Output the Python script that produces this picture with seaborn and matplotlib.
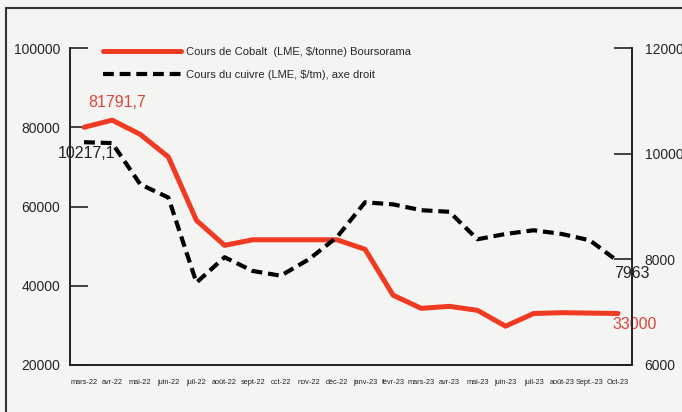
import seaborn as sns
import pandas as pd
import matplotlib.pyplot as plt
from matplotlib.lines import Line2D
from matplotlib.ticker import FixedLocator

sns.set_style("white")
plt.rcParams['font.family'] = ['Liberation Sans', 'DejaVu Sans']

# months on the x axis
months = ['mars-22', 'avr-22', 'mai-22', 'juin-22', 'juil-22', 'août-22',
          'sept-22', 'oct-22', 'nov-22', 'déc-22', 'janv-23', 'févr-23',
          'mars-23', 'avr-23', 'mai-23', 'juin-23', 'juil-23', 'août-23',
          'Sept.-23', 'Oct-23']

# cobalt price (LME, $/tonne), left axis
cobalt = [80000, 81791.7, 78200, 72500, 56500, 50200, 51600, 51600, 51600,
          51600, 49200, 37600, 34300, 34800, 33800, 29800, 33000, 33200,
          33100, 33000]

# copper price (LME, $/tm), right axis
cuivre = [10217.1, 10200, 9420, 9170, 7560, 8040, 7780, 7690, 8000, 8420,
          9080, 9040, 8930, 8900, 8380, 8480, 8550, 8480, 8360, 7963]

left_ticks = [20000, 40000, 60000, 80000, 100000]
right_ticks = [6000, 8000, 10000, 12000]

df = pd.DataFrame({'mois': months, 'cobalt': cobalt, 'cuivre': cuivre})

RED = '#f03a22'
BG = '#f4f4f2'

fig = plt.figure(figsize=(6.82, 4.12), dpi=100, facecolor=BG)
ax = fig.add_axes([70 / 682, 47 / 412, 562 / 682, 317 / 412])
ax.set_facecolor('none')
ax2 = ax.twinx()

sns.lineplot(data=df, x='mois', y='cobalt', ax=ax, color=RED, lw=3.6,
             sort=False, label='Cours de Cobalt  (LME, $/tonne) Boursorama',
             legend=False)
sns.lineplot(data=df, x='mois', y='cuivre', ax=ax2, color='black', lw=3,
             sort=False, label='Cours du cuivre (LME, $/tm), axe droit',
             legend=False)
ax2.lines[0].set_dashes((2.6, 1.4))

ax.set_xlim(-0.5, len(months) - 0.5)
ax.set_ylim(20000, 100000)
ax2.set_ylim(6000, 12000)
ax.set_yticks(left_ticks)
ax.set_yticklabels([str(v) for v in left_ticks])
ax2.set_yticks(right_ticks)
ax2.set_yticklabels([str(v) for v in right_ticks])

ax.set_xticks(range(len(months)))
ax.set_xticklabels(months, fontsize=5.3, color='#222222')
ax.xaxis.set_minor_locator(FixedLocator([i + 0.5 for i in range(len(months))]))
ax.tick_params(axis='x', which='major', length=0, pad=10)
ax.tick_params(axis='x', which='minor', direction='in', length=5, width=1,
               color='#222222')
ax.tick_params(axis='y', direction='in', length=13, width=1.2, pad=7,
               labelsize=10, color='#222222')
ax2.tick_params(axis='y', direction='in', length=13, width=1.2, pad=9,
                labelsize=10, color='#222222')
ax.set_xlabel('')
ax.set_ylabel('')
ax2.set_ylabel('')

for a in (ax, ax2):
    a.spines['top'].set_visible(False)
    for s in ('left', 'right', 'bottom'):
        a.spines[s].set_color('#222222')
        a.spines[s].set_linewidth(1.2)

# value labels
ax.text(0.15, 81791.7 + 2500, '81791,7', color='#d9453c', fontsize=11.5,
        ha='left', va='bottom')
ax2.text(-0.95, 10217.1 - 70, '10217,1', color='#222222', fontsize=11.5,
         ha='left', va='top')
ax2.text(18.85, 7963 - 90, '7963', color='#222222', fontsize=11.5,
         ha='left', va='top')
ax.text(18.8, 33000 - 800, '33000', color='#d9453c', fontsize=11.5,
        ha='left', va='top')

handles = ax.get_lines()[:1] + ax2.get_lines()[:1]
fig.legend(handles, [h.get_label() for h in handles], loc='upper left',
           bbox_to_anchor=(103 / 682, 1 - 47 / 412), frameon=False,
           handlelength=7, handletextpad=0.45, labelspacing=1.15,
           borderpad=0, borderaxespad=0, prop={'size': 8})

# scanned frame around the figure
fig.add_artist(Line2D([6 / 682, 1], [1 - 8 / 412, 1 - 8 / 412],
                      transform=fig.transFigure, color='#333333', lw=1.5))
fig.add_artist(Line2D([6 / 682, 6 / 682], [0, 1 - 8 / 412],
                      transform=fig.transFigure, color='#333333', lw=1.5))

fig.savefig('out.png', dpi=100, facecolor=BG)
